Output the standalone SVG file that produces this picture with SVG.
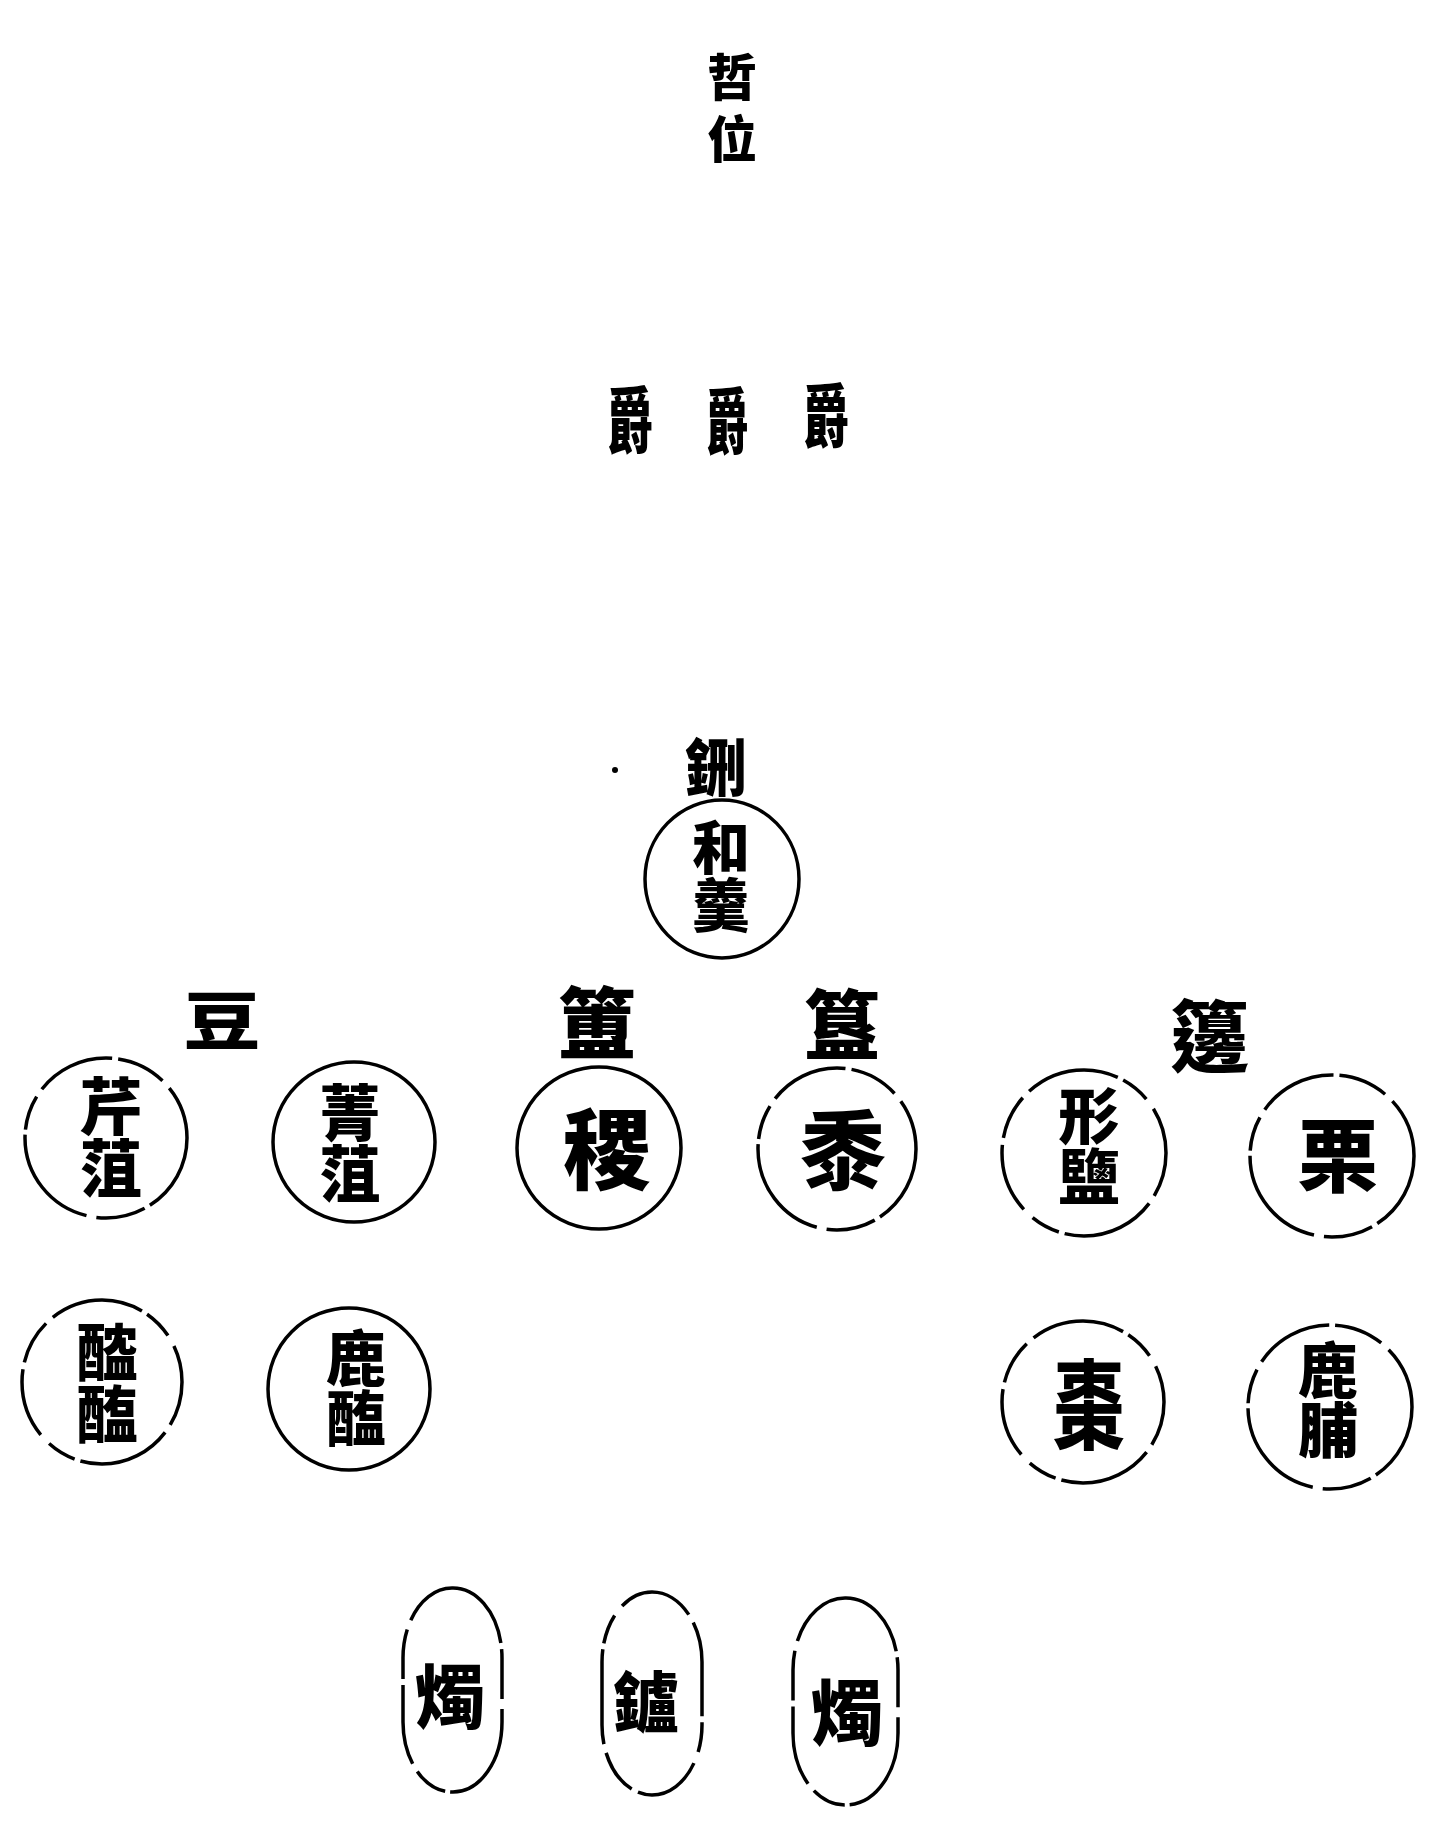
<svg xmlns="http://www.w3.org/2000/svg" width="1436" height="1840" viewBox="0 0 1436 1840">
<style>
text{font-family:"Noto Sans CJK TC","Noto Sans CJK SC",sans-serif;font-weight:900;fill:#000;text-anchor:middle;dominant-baseline:central}
.v{writing-mode:vertical-rl;text-orientation:upright}
.ring{fill:none;stroke:#000;stroke-width:3.5}
.brk{stroke-dasharray:80 6 50 10 110 5 35 9}
.brk2{stroke-dasharray:45 9 95 6 30 12 70 7}
</style>
<rect width="1436" height="1840" fill="#fff"/>
<g id="connectors"></g>
<g id="title">
<text class="v" x="732" y="114" font-size="50" letter-spacing="12">哲位</text>
</g>
<g id="jue">
<text transform="translate(630,416) scale(0.78,1.2)" font-size="60">爵</text>
<text transform="translate(727,416) scale(0.72,1.2)" font-size="60">爵</text>
<text transform="translate(826,412) scale(0.78,1.15)" font-size="60">爵</text>
</g>
<g id="xing">
<circle cx="615" cy="770" r="3"/>
<text x="716" y="764" font-size="62">鉶</text>
<ellipse class="ring" cx="722" cy="879" rx="77" ry="79"/>
<text class="v" x="721" y="876" font-size="58">和羹</text>
</g>
<g id="dou">
<text transform="translate(222,1016) scale(1.1,0.9)" font-size="70">豆</text>
<g id="qinzu">
<ellipse class="ring brk" cx="106" cy="1138" rx="81" ry="80"/>
<text class="v" x="111" y="1137" font-size="62">芹菹</text>
</g>
<g id="jingzu">
<ellipse class="ring" cx="354" cy="1142" rx="81" ry="80"/>
<text class="v" x="350" y="1143" font-size="61">菁菹</text>
</g>
<g id="tanhai">
<ellipse class="ring brk2" cx="102" cy="1382" rx="80" ry="82"/>
<text class="v" x="107" y="1383" font-size="62">醓醢</text>
</g>
<g id="luhai">
<ellipse class="ring" cx="349" cy="1389" rx="81" ry="81"/>
<text class="v" x="356" y="1388" font-size="60">鹿醢</text>
</g>
</g>
<g id="fu">
<text x="597" y="1019" font-size="78">簠</text>
<ellipse class="ring" cx="599" cy="1148" rx="82" ry="81"/>
<text x="607" y="1143" font-size="88">稷</text>
</g>
<g id="gui">
<text x="842" y="1021" font-size="76">簋</text>
<ellipse class="ring brk" cx="837" cy="1149" rx="79" ry="81"/>
<text x="843" y="1145" font-size="86">黍</text>
</g>
<g id="bian">
<text x="1210" y="1032" font-size="78">籩</text>
<g id="xingyan">
<ellipse class="ring brk2" cx="1084" cy="1153" rx="82" ry="83"/>
<text class="v" x="1089" y="1146" font-size="61">形鹽</text>
</g>
<g id="li">
<ellipse class="ring brk" cx="1332" cy="1156" rx="82" ry="81"/>
<text x="1338" y="1150" font-size="80">栗</text>
</g>
<g id="zao">
<ellipse class="ring brk2" cx="1083" cy="1402" rx="81" ry="81"/>
<text transform="translate(1089,1398) scale(0.85,1.15)" font-size="84">棗</text>
</g>
<g id="lufu">
<ellipse class="ring brk" cx="1330" cy="1407" rx="82" ry="82"/>
<text class="v" x="1328" y="1400" font-size="60">鹿脯</text>
</g>
</g>
<g id="bottom">
<g id="zhu1">
<rect class="ring brk" x="403" y="1588" width="99" height="204" rx="49" ry="70"/>
<text x="450" y="1692" font-size="70">燭</text>
</g>
<g id="lu">
<rect class="ring brk2" x="602" y="1592" width="100" height="203" rx="50" ry="70"/>
<text x="646" y="1698" font-size="66">鑪</text>
</g>
<g id="zhu2">
<rect class="ring brk" x="793" y="1598" width="105" height="207" rx="52" ry="72"/>
<text x="847" y="1707" font-size="72">燭</text>
</g>
</g>
</svg>
